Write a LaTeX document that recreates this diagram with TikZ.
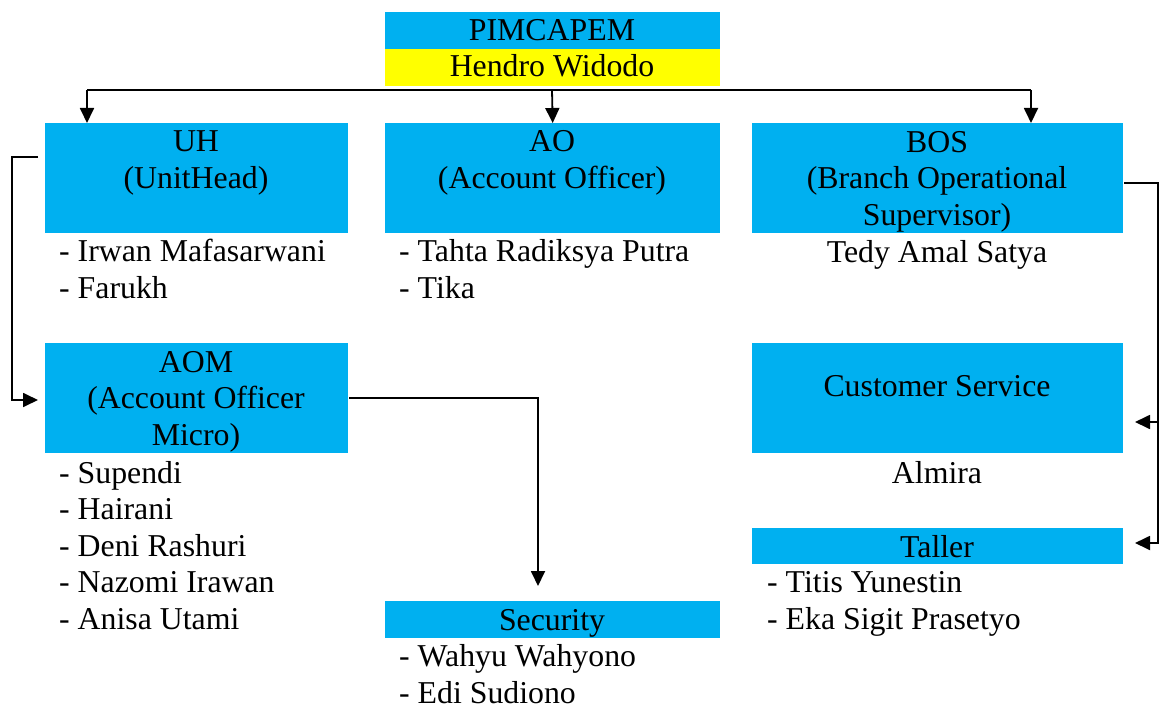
\documentclass[tikz,border=0pt]{standalone}
\usepackage{fontspec}
\setmainfont{Liberation Serif}
\usetikzlibrary{arrows.meta}

\definecolor{unitblue}{HTML}{00B0F0}
\definecolor{headyellow}{HTML}{FFFF00}

\tikzset{
  unit/.style={fill=unitblue, draw=none, inner sep=0pt, anchor=north west},
  title/.style={inner sep=0pt, anchor=base, align=center},
  staff/.style={inner sep=0pt, anchor=base west, align=left},
  wire/.style={line width=1.8pt},
  link/.style={line width=1.8pt, -{Triangle[length=15pt,width=14pt]}},
}

\begin{document}
\begin{tikzpicture}[x=1pt, y=-1pt, font={\fontsize{31.8pt}{36.5pt}\selectfont}]
  \useasboundingbox (0,0) rectangle (1166,706);

  % Boxes
  \node[unit, minimum width=335pt, minimum height=37pt] (pim) at (385,12) {};
  \node[unit, fill=headyellow, minimum width=335pt, minimum height=37pt] (hendro) at (385,49) {};
  \node[unit, minimum width=303pt, minimum height=110pt] (uh) at (45,123) {};
  \node[unit, minimum width=335pt, minimum height=110pt] (ao) at (385,123) {};
  \node[unit, minimum width=371pt, minimum height=110pt] (bos) at (752,123) {};
  \node[unit, minimum width=303pt, minimum height=110pt] (aom) at (45,343) {};
  \node[unit, minimum width=371pt, minimum height=110pt] (cs) at (752,343) {};
  \node[unit, minimum width=371pt, minimum height=36pt] (taller) at (752,528) {};
  \node[unit, minimum width=335pt, minimum height=37pt] (sec) at (385,601) {};

  % Titles (base = last line)
  \node[title] (pimtxt) at (552,41) {PIMCAPEM};
  \node[title] (hendrotxt) at (552,77) {Hendro Widodo};
  \node[title] (uhtxt) at (196,188) {UH\\(UnitHead)};
  \node[title] (aotxt) at (552,188) {AO\\(Account Officer)};
  \node[title] (bostxt) at (937,225) {BOS\\(Branch Operational\\Supervisor)};
  \node[title] (aomtxt) at (196,445) {AOM\\(Account Officer\\Micro)};
  \node[title] (cstxt) at (937,396) {Customer Service};
  \node[title] (tallertxt) at (937,557) {Taller};
  \node[title] (sectxt) at (552,630) {Security};

  % Staff
  \node[staff] (uhstaff) at (59,298) {- Irwan Mafasarwani\\- Farukh};
  \node[staff] (aostaff) at (399,298) {- Tahta Radiksya Putra\\- Tika};
  \node[title] (bosstaff) at (937,262) {Tedy Amal Satya};
  \node[staff] (aomstaff) at (59,629) {- Supendi\\- Hairani\\- Deni Rashuri\\- Nazomi Irawan\\- Anisa Utami};
  \node[title] (csstaff) at (937,483) {Almira};
  \node[staff] (tallerstaff) at (767,629) {- Titis Yunestin\\- Eka Sigit Prasetyo};
  \node[staff] (secstaff) at (399,703) {- Wahyu Wahyono\\- Edi Sudiono};

  % Connector ends
  \coordinate (busL) at (87,90);
  \coordinate (busM) at (552,90);
  \coordinate (busR) at (1031,90);
  \coordinate (uhout) at (38,157);
  \coordinate (aomin) at (38,400);
  \coordinate (secin) at (538,586);
  \coordinate (bosout) at (1124,183);
  \coordinate (csfork) at (1158,422);
  \coordinate (csin) at (1135,422);
  \coordinate (tallerin) at (1135,543);

  % Connectors
  \draw[wire] (busL) -- (busR);
  \draw[link] (busL) -- (busL |- uh.north);
  \draw[link] (busM) -- (ao.north);
  \draw[link] (busR) -- (busR |- bos.north);
  \draw[link] (uhout) -- ++(-26,0) |- (aomin);
  \draw[link] ([xshift=1pt]aom.east) -| (secin);
  \draw[link] (bosout) -- ++(34,0) |- (tallerin);
  \draw[link] (csfork) -- (csin);
\end{tikzpicture}
\end{document}
